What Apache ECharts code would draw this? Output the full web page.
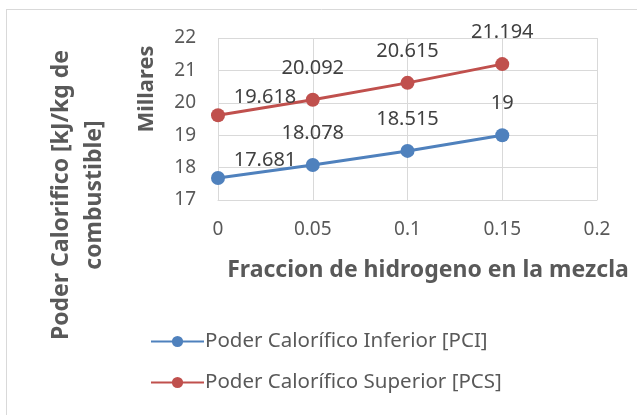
<!DOCTYPE html>
<html>
<head>
<meta charset="utf-8">
<script src="https://cdn.jsdelivr.net/npm/echarts@6/dist/echarts.min.js"></script>
<style>
  html, body { margin: 0; padding: 0; background: #fff; }
  #chart { width: 637px; height: 415px; }
</style>
</head>
<body>
<div id="chart"></div>
<script>
const fracciones = [0, 0.05, 0.1, 0.15]
const pci = [17.681, 18.078, 18.515, 19]
const pcs = [19.618, 20.092, 20.615, 21.194]
const serieNames = ['Poder Calorífico Inferior [PCI]', 'Poder Calorífico Superior [PCS]']

const FONT = '"Noto Sans", sans-serif'
const GRAY = '#595959'

function buildData(values) {
  return values.map((v, i) => {
    const item = { value: [fracciones[i], v] }
    // Excel empuja la primera etiqueta hacia la derecha
    if (i === 0) {
      item.label = { offset: [47, 0], distance: 1 }
    }
    return item
  })
}

function makeSeries(name, values, color) {
  return {
    name: name,
    type: 'line',
    data: buildData(values),
    symbol: 'circle',
    symbolSize: 14,
    lineStyle: { width: 3, color: color },
    itemStyle: { color: color },
    label: {
      show: true,
      position: 'top',
      distance: 15,
      fontFamily: FONT,
      fontSize: 20,
      color: '#404040'
    },
    emphasis: { disabled: true }
  }
}

const myChart = echarts.init(document.getElementById('chart'))
const option = {
  animation: false,
  grid: {
    left: 218,
    right: 40,
    top: 38,
    bottom: 215,
    outerBoundsMode: 'none'
  },
  legend: {
    orient: 'vertical',
    left: 150,
    top: 331,
    padding: 0,
    itemWidth: 53,
    itemHeight: 14,
    itemGap: 20,
    textStyle: { fontFamily: FONT, fontSize: 20.5, color: GRAY, padding: [0, 0, 0, -4] },
    data: serieNames
  },
  xAxis: {
    type: 'value',
    min: 0,
    max: 0.2,
    interval: 0.05,
    axisLine: { show: true, lineStyle: { color: '#d9d9d9', width: 1 } },
    axisTick: { show: false },
    axisLabel: { fontFamily: FONT, fontSize: 19, color: GRAY, margin: 20 },
    splitLine: { show: true, lineStyle: { color: '#d9d9d9', width: 1 } }
  },
  yAxis: {
    type: 'value',
    min: 17,
    max: 22,
    interval: 1,
    axisLine: { show: false },
    axisTick: { show: false },
    axisLabel: { fontFamily: FONT, fontSize: 19, color: GRAY, margin: 22 },
    splitLine: { show: true, lineStyle: { color: '#d9d9d9', width: 1 } }
  },
  graphic: [
    {
      type: 'line',
      shape: { x1: 6.5, y1: 9, x2: 6.5, y2: 415 },
      style: { stroke: '#d9d9d9', lineWidth: 1 }
    },
    {
      type: 'line',
      shape: { x1: 6, y1: 9.5, x2: 637, y2: 9.5 },
      style: { stroke: '#d9d9d9', lineWidth: 1 }
    },
    {
      type: 'text',
      x: 428,
      y: 270,
      style: {
        text: 'Fraccion de hidrogeno en la mezcla',
        fontFamily: FONT,
        fontSize: 23,
        fontWeight: 'bold',
        fill: GRAY,
        align: 'center',
        verticalAlign: 'middle'
      }
    },
    {
      type: 'text',
      x: 147,
      y: 89,
      rotation: Math.PI / 2,
      style: {
        text: 'Millares',
        fontFamily: FONT,
        fontSize: 22,
        fontWeight: 'bold',
        fill: GRAY,
        align: 'center',
        verticalAlign: 'middle'
      }
    },
    {
      type: 'text',
      x: 78,
      y: 195,
      rotation: Math.PI / 2,
      style: {
        text: 'Poder Calorifico [kJ/kg de\ncombustible]',
        fontFamily: FONT,
        fontSize: 23,
        fontWeight: 'bold',
        fill: GRAY,
        align: 'center',
        verticalAlign: 'middle',
        lineHeight: 33
      }
    }
  ],
  series: [
    makeSeries(serieNames[0], pci, '#4F81BD'),
    makeSeries(serieNames[1], pcs, '#C0504D')
  ]
}
myChart.setOption(option)
</script>
</body>
</html>
